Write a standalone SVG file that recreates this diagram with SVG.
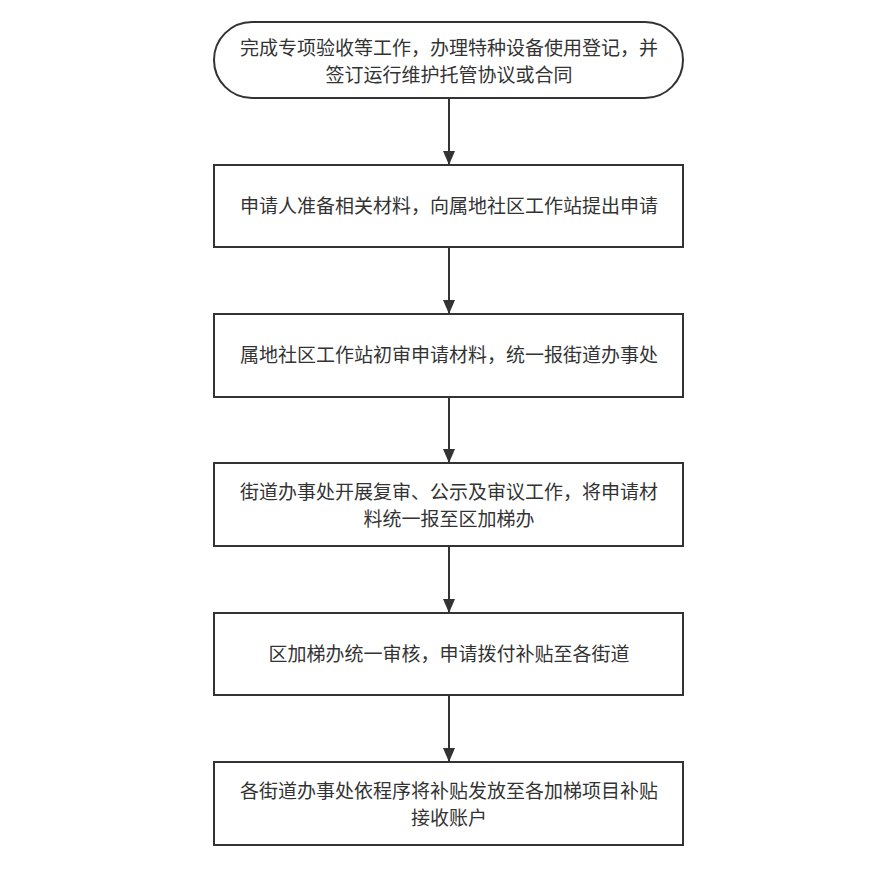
<svg xmlns="http://www.w3.org/2000/svg" width="877" height="874" viewBox="0 0 877 874">
<style>
.b{fill:#fff;stroke:#333;stroke-width:2}
.t{font-family:"Noto Sans CJK SC",sans-serif;font-size:19px;fill:#333;text-anchor:middle}
.c{stroke:#333;stroke-width:2;fill:none;marker-end:url(#a)}
</style>
<defs><marker id="a" viewBox="0 0 14 12" refX="13" refY="6" markerWidth="14" markerHeight="12" orient="auto" markerUnits="userSpaceOnUse"><path d="M0,0L14,6L0,12z" fill="#333"/></marker></defs>
<rect width="877" height="874" fill="#fff"/>
<g id="connectors">
<path class="c" d="M449,98V164"/>
<path class="c" d="M449,247V313"/>
<path class="c" d="M449,397V462"/>
<path class="c" d="M449,546V612"/>
<path class="c" d="M449,695V761"/>
</g>
<g id="n1"><rect class="b" x="214" y="22" width="469" height="76" rx="38"/><text class="t" x="449" y="55">完成专项验收等工作，办理特种设备使用登记，并</text><text class="t" x="449" y="82">签订运行维护托管协议或合同</text></g>
<g id="n2"><rect class="b" x="214" y="165" width="469" height="82"/><text class="t" x="449" y="213">申请人准备相关材料，向属地社区工作站提出申请</text></g>
<g id="n3"><rect class="b" x="214" y="314" width="469" height="83"/><text class="t" x="449" y="362">属地社区工作站初审申请材料，统一报街道办事处</text></g>
<g id="n4"><rect class="b" x="214" y="463" width="469" height="83"/><text class="t" x="449" y="499">街道办事处开展复审、公示及审议工作，将申请材</text><text class="t" x="449" y="526">料统一报至区加梯办</text></g>
<g id="n5"><rect class="b" x="214" y="613" width="469" height="82"/><text class="t" x="449" y="661">区加梯办统一审核，申请拨付补贴至各街道</text></g>
<g id="n6"><rect class="b" x="214" y="762" width="469" height="83"/><text class="t" x="449" y="798">各街道办事处依程序将补贴发放至各加梯项目补贴</text><text class="t" x="449" y="825">接收账户</text></g>
</svg>
